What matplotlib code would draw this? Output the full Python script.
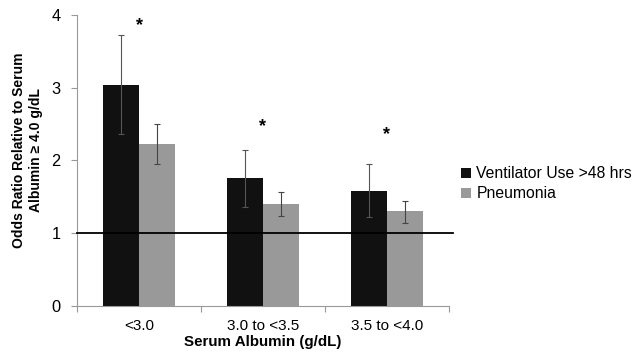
import matplotlib.pyplot as plt
import numpy as np

plt.rcParams['font.family'] = ['Liberation Sans', 'DejaVu Sans']

# data
categories = ['<3.0', '3.0 to <3.5', '3.5 to <4.0']
vent_or = [3.04, 1.76, 1.585]
vent_lo = [2.37, 1.365, 1.23]
vent_hi = [3.73, 2.15, 1.95]
pneu_or = [2.22, 1.40, 1.30]
pneu_lo = [1.95, 1.24, 1.145]
pneu_hi = [2.50, 1.57, 1.45]
star_y = [3.85, 2.47, 2.35]

fig = plt.figure(figsize=(6.34, 3.56), dpi=100)
ax = fig.add_axes([0.1215, 0.1404, 0.5865, 0.8176])

x = np.arange(len(categories))
w = 0.29

vent_err = [np.array(vent_or) - np.array(vent_lo), np.array(vent_hi) - np.array(vent_or)]
pneu_err = [np.array(pneu_or) - np.array(pneu_lo), np.array(pneu_hi) - np.array(pneu_or)]

ax.bar(x - w / 2, vent_or, w, color='#111111', label='Ventilator Use >48 hrs', zorder=2)
ax.bar(x + w / 2, pneu_or, w, color='#999999', label='Pneumonia', zorder=2)
ax.errorbar(x - w / 2, vent_or, yerr=vent_err, fmt='none', ecolor='#555555',
            elinewidth=0.8, capsize=2, capthick=0.8, zorder=3)
ax.errorbar(x + w / 2, pneu_or, yerr=pneu_err, fmt='none', ecolor='#444444',
            elinewidth=0.8, capsize=2, capthick=0.8, zorder=3)

# reference line at OR = 1
ax.axhline(1, color='black', lw=1.3, zorder=4, xmax=1.01, clip_on=False)

for xi, yi in zip(x, star_y):
    ax.text(xi, yi, '*', ha='center', va='center', fontsize=13, fontweight='bold')

ax.set_xlim(-0.5, 2.5)
ax.set_ylim(0, 4)
ax.set_yticks([0, 1, 2, 3, 4])
ax.tick_params(axis='y', labelsize=11.8, length=4, color='#999999', width=0.8, pad=8)
ax.set_xticks(x)
ax.set_xticklabels(categories)
ax.set_xticks([-0.5, 0.5, 1.5, 2.5], minor=True)
ax.tick_params(axis='x', which='major', length=0, labelsize=11, pad=9)
ax.tick_params(axis='x', which='minor', length=4, color='#999999', width=0.8)

for s in ['top', 'right']:
    ax.spines[s].set_visible(False)
for s in ['left', 'bottom']:
    ax.spines[s].set_color('#999999')
    ax.spines[s].set_linewidth(0.8)

ax.set_xlabel('Serum Albumin (g/dL)', fontsize=10.9, fontweight='bold', labelpad=2)
ax.set_ylabel('Odds Ratio Relative to Serum\nAlbumin \u2265 4.0 g/dL', fontsize=10,
              fontweight='bold', linespacing=1.25)
ax.yaxis.set_label_coords(-0.092, 0.535)

fig.legend(loc='upper left', bbox_to_anchor=(0.718, 0.55), frameon=False,
           fontsize=11.3, handlelength=0.6, handleheight=0.6, handletextpad=0.35,
           labelspacing=0.3, borderaxespad=0)

fig.savefig('out.png', dpi=100)
